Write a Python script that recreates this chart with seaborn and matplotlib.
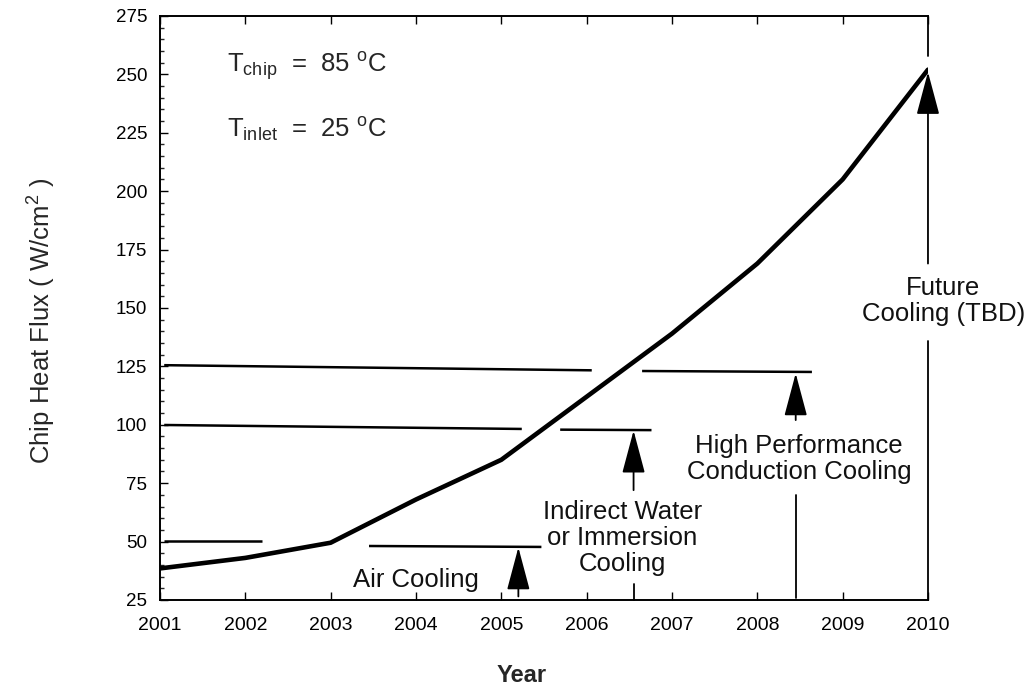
import matplotlib
matplotlib.use("Agg")
import matplotlib.pyplot as plt
from matplotlib.ticker import MultipleLocator
import seaborn as sns
import pandas as pd

# ---- data ----
years = [2001, 2002, 2003, 2004, 2005, 2006, 2007, 2008, 2009, 2010]
heat_flux = [38.5, 43, 49.5, 68, 85, 112, 139, 169, 205, 252]

# limit bars (start year, end year, level at start, level at end)
bar_x0 = [2001.05, 2003.45, 2001.05, 2005.69, 2001.05, 2006.65]
bar_x1 = [2002.2, 2005.47, 2005.24, 2006.76, 2006.06, 2008.64]
bar_y0 = [50.3, 48.1, 99.9, 97.9, 125.5, 123.0]
bar_y1 = [50.3, 47.7, 98.2, 97.7, 123.3, 122.6]

# arrows (x, tip value, stem bottom value)
arrow_x = [2005.2, 2006.55, 2008.45, 2010.0]
arrow_tip = [47.5, 97.5, 122.0, 251.0]
arrow_bottom = [26.5, 72.0, 102.0, 169.0]

# extra stem segments (x, y0, y1)
seg_x = [2006.55, 2008.45, 2010.0, 2010.0]
seg_y0 = [25.0, 26.0, 25.0, 258.0]
seg_y1 = [32.0, 70.0, 136.0, 275.0]

labels = ["Air Cooling", "Indirect Water\nor Immersion\nCooling",
          "High Performance\nConduction Cooling", "Future\nCooling (TBD)"]
label_x = [2004.0, 2006.42, 2008.49, 2010.18]
label_y = [33.5, 51.5, 85.5, 153.0]

x_ticks = years
y_ticks = [25, 50, 75, 100, 125, 150, 175, 200, 225, 250, 275]

# ---- style ----
sns.set_theme(style="white")
plt.rcParams['font.family'] = ['Liberation Sans', 'DejaVu Sans']
plt.rcParams['mathtext.fontset'] = 'custom'
plt.rcParams['mathtext.rm'] = 'Liberation Sans'
plt.rcParams['mathtext.it'] = 'Liberation Sans'

fig = plt.figure(figsize=(10.28, 6.92), dpi=100)
ax = fig.add_axes([0.1556, 0.133, 0.7471, 0.844])

df = pd.DataFrame({"Year": years, "Flux": heat_flux})
sns.lineplot(data=df, x="Year", y="Flux", ax=ax, color="black", lw=3.3)

for x0, x1, y0, y1 in zip(bar_x0, bar_x1, bar_y0, bar_y1):
    ax.plot([x0, x1], [y0, y1], color="black", lw=1.8, solid_capstyle="butt")

for x, tip, bot in zip(arrow_x, arrow_tip, arrow_bottom):
    ax.annotate("", xy=(x, tip), xytext=(x, bot),
                arrowprops=dict(arrowstyle="-|>,head_length=2.25,head_width=0.6",
                                lw=1.3, color="black", shrinkA=0, shrinkB=0))

for x, y0, y1 in zip(seg_x, seg_y0, seg_y1):
    ax.plot([x, x], [y0, y1], color="black", lw=1.3, clip_on=False)

for t, x, y in zip(labels, label_x, label_y):
    ax.text(x, y, t, ha="center", va="center", fontsize=18.5,
            linespacing=1.1, color="#111111")

ax.text(2001.79, 250.6, r"T$_{\rm chip}$  =  85 $^{\rm o}$C", fontsize=18.5,
        va="baseline", ha="left")
ax.text(2001.79, 222.9, r"T$_{\rm inlet}$  =  25 $^{\rm o}$C", fontsize=18.5,
        va="baseline", ha="left")

ax.set_xlim(2001, 2010)
ax.set_ylim(25, 275)
ax.set_xticks(x_ticks)
ax.set_xticklabels([str(v) for v in x_ticks])
ax.set_yticks(y_ticks)
ax.yaxis.set_minor_locator(MultipleLocator(5))
ax.tick_params(axis="both", which="major", direction="in", length=6, width=1,
               colors="black")
ax.tick_params(axis="x", top=True, bottom=True, pad=12, labelsize=14)
ax.tick_params(axis="y", which="major", left=True, right=False, pad=9,
               labelsize=13.5)
ax.tick_params(axis="y", which="minor", left=True, right=False, direction="in",
               length=3, width=1)

for s in ["left", "bottom", "top"]:
    ax.spines[s].set_visible(True)
    ax.spines[s].set_color("black")
    ax.spines[s].set_linewidth(1.4)
ax.spines["right"].set_visible(False)

ax.set_xlabel("Year", fontsize=17, fontweight="bold")
ax.xaxis.label.set_va("center")
ax.xaxis.set_label_coords(0.471, -0.130)
ax.set_ylabel(r"Chip Heat Flux ( W/cm$^{\rm 2}$ )", fontsize=18.5)
ax.yaxis.label.set_va("center")
ax.yaxis.set_label_coords(-0.154, 0.478)

fig.savefig("out.png", dpi=100)
